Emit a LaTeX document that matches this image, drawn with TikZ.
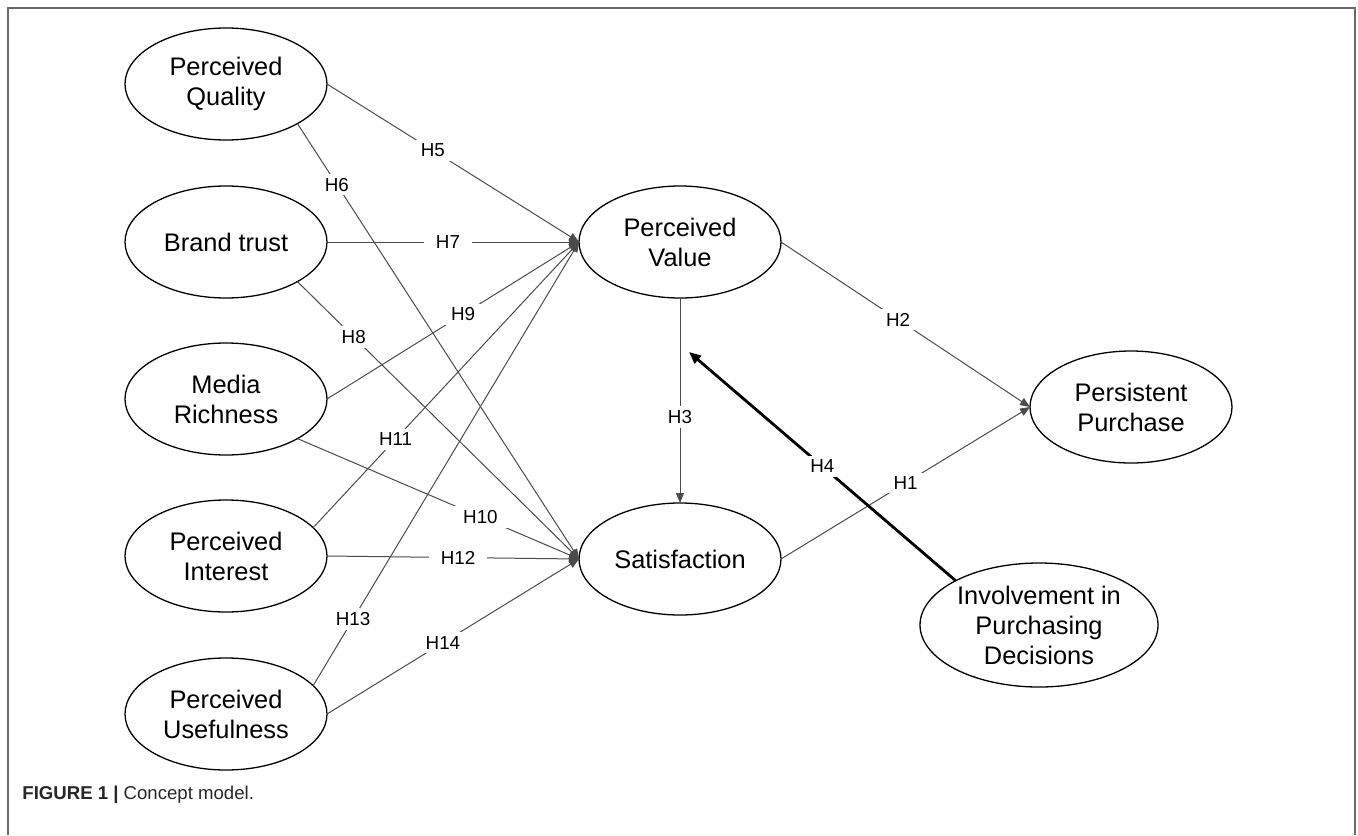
\documentclass[tikz,border=0pt]{standalone}
\usepackage{fontspec}
\setmainfont{Liberation Sans}
\usetikzlibrary{shapes.geometric,arrows.meta}
\definecolor{edgecol}{RGB}{75,75,75}
\definecolor{framecol}{RGB}{105,105,105}

\begin{document}
\begin{tikzpicture}[x=0.5pt, y=-0.5pt,
  cons/.style={ellipse, draw=black, line width=0.65pt, inner sep=0pt, outer sep=0pt,
               minimum width=101pt, minimum height=56pt, align=center,
               font=\fontsize{12.7}{15}\selectfont},
  hyp/.style={fill=white, inner xsep=6pt, inner ysep=2pt,
              font=\fontsize{9.4}{11}\selectfont},
  ea/.style={-{Triangle[length=5pt,width=4pt]}, line width=0.5pt, draw=edgecol},
]
\useasboundingbox (0,0) rectangle (1358,835);
\draw[framecol, line width=1pt] (8,835) -- (8,8) -- (1355,8) -- (1355,835);

\node[cons] (pq)  at (226,84)  {Perceived\\Quality};
\node[cons] (bt)  at (226,242) {Brand trust};
\node[cons] (mr)  at (226,399) {Media\\Richness};
\node[cons] (pi)  at (226,556) {Perceived\\Interest};
\node[cons] (pu)  at (226,714) {Perceived\\Usefulness};
\node[cons] (pv)  at (680,242) {Perceived\\Value};
\node[cons] (sat) at (680,559) {Satisfaction};
\node[cons] (pp)  at (1131,407) {Persistent\\Purchase};
\node[cons, minimum width=119pt, minimum height=62pt] (inv) at (1039,625)
  {Involvement in\\Purchasing\\Decisions};

% antecedents
\foreach \a/\b/\l/\p in {
  pq.east/pv.west/H5/0.42,
  pq.-29/sat.west/H6/0.14,
  bt.east/pv.west/H7/0.48,
  bt.-29/sat.west/H8/0.2,
  mr.east/pv.west/H9/0.54,
  mr.-29/sat.west/H10/0.65,
  pi.18/pv.west/H11/0.31,
  pi.east/sat.west/H12/0.52,
  pu.18/pv.west/H13/0.15,
  pu.east/sat.west/H14/0.46
} \draw[ea] (\a) -- node[hyp, pos=\p] {\l} (\b);

\draw[ea] (pv.south) -- node[hyp, pos=0.58] {H3} (sat.north);
\draw[ea] (pv.east) -- node[hyp, pos=0.47] {H2} (pp.west);
\draw[ea] (sat.east) -- node[hyp, pos=0.5] {H1} (pp.west);

% moderator
\coordinate (h4tip) at (689,352);
\draw[-{Triangle[length=6pt,width=5pt]}, line width=1.4pt] (inv.152)
  -- node[hyp, pos=0.5] {H4} (h4tip);

\node[anchor=west, inner sep=0pt, text=black!85, font=\fontsize{9.3}{11}\selectfont]
  (cap) at (22,795) {\textbf{FIGURE 1 |} Concept model.};
\end{tikzpicture}
\end{document}
